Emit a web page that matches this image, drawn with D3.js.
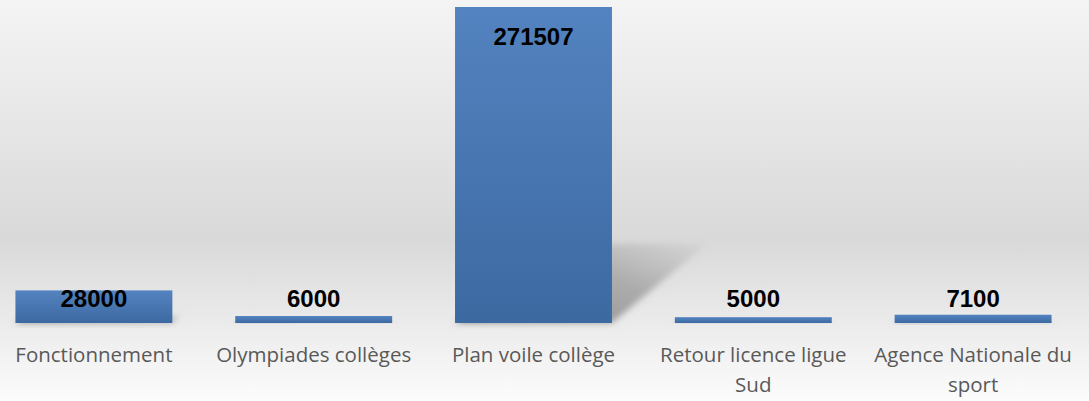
<!DOCTYPE html>
<html><head><meta charset="utf-8">
<script src="https://cdn.jsdelivr.net/npm/d3@7"></script>
<style>html,body{margin:0;padding:0;background:#fff;}svg{display:block;}</style>
</head><body>
<svg id="chart" width="1089" height="401"></svg>
<script>
const categories = ["Fonctionnement", "Olympiades collèges", "Plan voile collège", "Retour licence ligue Sud", "Agence Nationale du sport"];
const categoryLines = [["Fonctionnement"], ["Olympiades collèges"], ["Plan voile collège"], ["Retour licence ligue", "Sud"], ["Agence Nationale du", "sport"]];
const values = [28000, 6000, 271507, 5000, 7100];

const W = 1089, H = 401;
const svg = d3.select("#chart");
const defs = svg.append("defs");

const bg = defs.append("linearGradient").attr("id", "bg").attr("x1", 0).attr("y1", 0).attr("x2", 0).attr("y2", 1);
bg.append("stop").attr("offset", 0).attr("stop-color", "#f4f4f4");
bg.append("stop").attr("offset", 0.6).attr("stop-color", "#d9d9d9");
bg.append("stop").attr("offset", 1).attr("stop-color", "#fcfcfc");

const bar = defs.append("linearGradient").attr("id", "bar").attr("x1", 0).attr("y1", 0).attr("x2", 0).attr("y2", 1);
bar.append("stop").attr("offset", 0).attr("stop-color", "#5383c0");
bar.append("stop").attr("offset", 1).attr("stop-color", "#3d69a1");

const sh = defs.append("linearGradient").attr("id", "sh").attr("x1", 0).attr("y1", 1).attr("x2", 1).attr("y2", 0);
sh.append("stop").attr("offset", 0).attr("stop-color", "#7a7a7a").attr("stop-opacity", 0.9);
sh.append("stop").attr("offset", 0.6).attr("stop-color", "#8a8a8a").attr("stop-opacity", 0.6);
sh.append("stop").attr("offset", 1).attr("stop-color", "#9a9a9a").attr("stop-opacity", 0.1);

const blur = defs.append("filter").attr("id", "blur").attr("x", "-50%").attr("y", "-50%").attr("width", "200%").attr("height", "200%");
blur.append("feGaussianBlur").attr("stdDeviation", 3);

svg.append("rect").attr("width", W).attr("height", H).attr("fill", "url(#bg)");

const x = d3.scaleBand().domain(categories).range([-16, 1083]).paddingInner(0.286).paddingOuter(0.143);
const y = d3.scaleLinear().domain([0, 271507]).range([323, 7]);

// shadows
svg.append("g").selectAll("path").data(values).join("path")
  .attr("filter", "url(#blur)")
  .attr("fill", "url(#sh)")
  .attr("d", (v, i) => {
    const x0 = x(categories[i]), x1 = x0 + x.bandwidth();
    const b = y(0), h = y(0) - y(v);
    const d = 0.3 * h, s = 0.25 * h;
    return `M${x0},${b}L${x1},${b}L${x1 + d},${b - s}L${x0 + d},${b - s}Z`;
  });

// bars
svg.append("g").selectAll("rect").data(values).join("rect")
  .attr("x", (v, i) => x(categories[i]))
  .attr("width", x.bandwidth())
  .attr("y", v => y(v))
  .attr("height", v => y(0) - y(v))
  .attr("fill", "url(#bar)");

// value labels
svg.append("g").selectAll("text").data(values).join("text")
  .attr("x", (v, i) => x(categories[i]) + x.bandwidth() / 2)
  .attr("y", v => (y(0) - y(v) > 40 ? y(v) + 38 : y(0) - 16))
  .attr("text-anchor", "middle")
  .attr("font-family", "'Liberation Sans', Arial, sans-serif")
  .attr("font-weight", "bold")
  .attr("font-size", 24)
  .attr("fill", "#000")
  .text(v => v);

// category labels
const cat = svg.append("g").selectAll("text").data(categoryLines).join("text")
  .attr("x", (d, i) => x(categories[i]) + x.bandwidth() / 2)
  .attr("y", 362)
  .attr("text-anchor", "middle")
  .attr("font-family", "'Open Sans', 'Liberation Sans', sans-serif")
  .attr("font-size", 20.5)
  .attr("fill", "#595959");
cat.selectAll("tspan").data(d => d).join("tspan")
  .attr("x", function () { return this.parentNode.getAttribute("x"); })
  .attr("dy", (d, j) => j === 0 ? 0 : 30)
  .text(d => d);
</script>
</body></html>
